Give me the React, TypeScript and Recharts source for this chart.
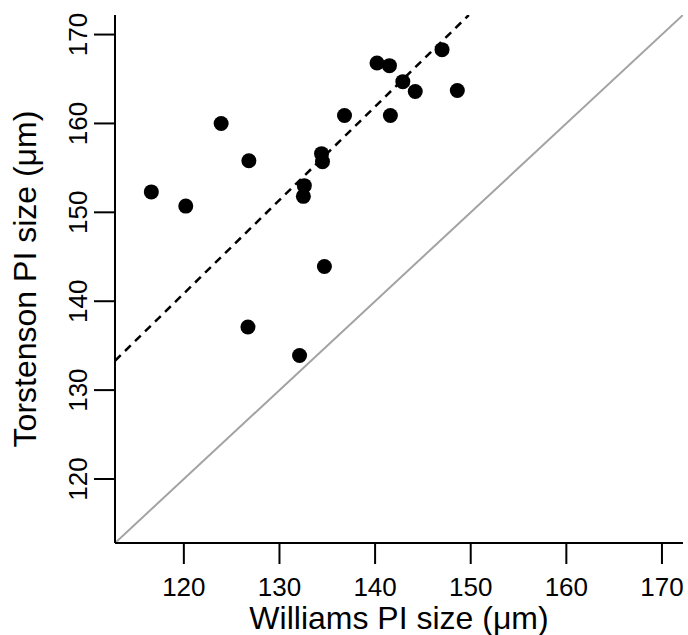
import { ScatterChart, Scatter, XAxis, YAxis, ReferenceLine, Label } from 'recharts'

// Williams vs Torstenson PI size, one entry per specimen
const williams = [116.6, 120.2, 123.9, 126.8, 126.7, 132.1, 132.5, 132.6, 134.4, 134.5, 134.7, 136.8, 140.2, 141.5, 141.6, 142.9, 144.2, 147.0, 148.6]
const torstenson = [152.3, 150.7, 160.0, 155.8, 137.1, 133.9, 151.8, 153.0, 156.6, 155.7, 143.9, 160.9, 166.8, 166.5, 160.9, 164.7, 163.6, 168.3, 163.7]

const axisTicks = [120, 130, 140, 150, 160, 170]
const axisDomain = [112.8, 172.2]

// 1:1 line and the fitted (dashed) line, as end points in data units
const identityLine = [{ x: 112.8, y: 112.8 }, { x: 172.2, y: 172.2 }]
const fitLine = [{ x: 112.8, y: 133.3 }, { x: 149.8, y: 172.2 }]

const points = williams.map((x, i) => ({ x, y: torstenson[i] }))

const FONT = '"Liberation Sans", Arial, Helvetica, sans-serif'

const XTick = ({ x, y, payload }: any) => (
  <text x={x} y={y + 30} textAnchor="middle" fontFamily={FONT} fontSize={26} fill="#000">
    {payload.value}
  </text>
)

const YTick = ({ x, y, payload }: any) => (
  <text
    x={x - 5}
    y={y}
    transform={`rotate(-90, ${x - 5}, ${y})`}
    textAnchor="middle"
    fontFamily={FONT}
    fontSize={26}
    fill="#000"
  >
    {payload.value}
  </text>
)

const Dot = ({ cx, cy }: any) => <circle cx={cx} cy={cy} r={7.5} fill="#000" />

export default function App() {
  return (
    <div style={{ position: 'absolute', left: 0, top: 0, background: '#fff' }}>
      <ScatterChart width={688} height={635} margin={{ top: 15, right: 5, bottom: 0, left: 0 }}>
        <XAxis
          type="number"
          dataKey="x"
          domain={axisDomain}
          ticks={axisTicks}
          allowDataOverflow
          height={92}
          tickSize={21}
          axisLine={{ stroke: '#000', strokeWidth: 2 }}
          tickLine={{ stroke: '#000', strokeWidth: 2 }}
          tick={<XTick />}
        >
          <Label
            content={({ viewBox }: any) => (
              <text
                x={viewBox.x + viewBox.width / 2}
                y={629}
                textAnchor="middle"
                fontFamily={FONT}
                fontSize={32}
                fill="#000"
              >
                Williams PI size (μm)
              </text>
            )}
          />
        </XAxis>
        <YAxis
          type="number"
          dataKey="y"
          domain={axisDomain}
          ticks={axisTicks}
          allowDataOverflow
          width={115}
          tickSize={21}
          axisLine={{ stroke: '#000', strokeWidth: 2 }}
          tickLine={{ stroke: '#000', strokeWidth: 2 }}
          tick={<YTick />}
        >
          <Label
            content={({ viewBox }: any) => {
              const cy = viewBox.y + viewBox.height / 2
              return (
                <text
                  x={36}
                  y={cy}
                  transform={`rotate(-90, 36, ${cy})`}
                  textAnchor="middle"
                  fontFamily={FONT}
                  fontSize={32}
                  fill="#000"
                >
                  Torstenson PI size (μm)
                </text>
              )
            }}
          />
        </YAxis>
        <ReferenceLine segment={identityLine} stroke="#a3a3a3" strokeWidth={2} ifOverflow="hidden" />
        <ReferenceLine segment={fitLine} stroke="#000" strokeWidth={2.5} strokeDasharray="8 6" ifOverflow="hidden" />
        <Scatter data={points} shape={<Dot />} isAnimationActive={false} />
      </ScatterChart>
    </div>
  )
}
